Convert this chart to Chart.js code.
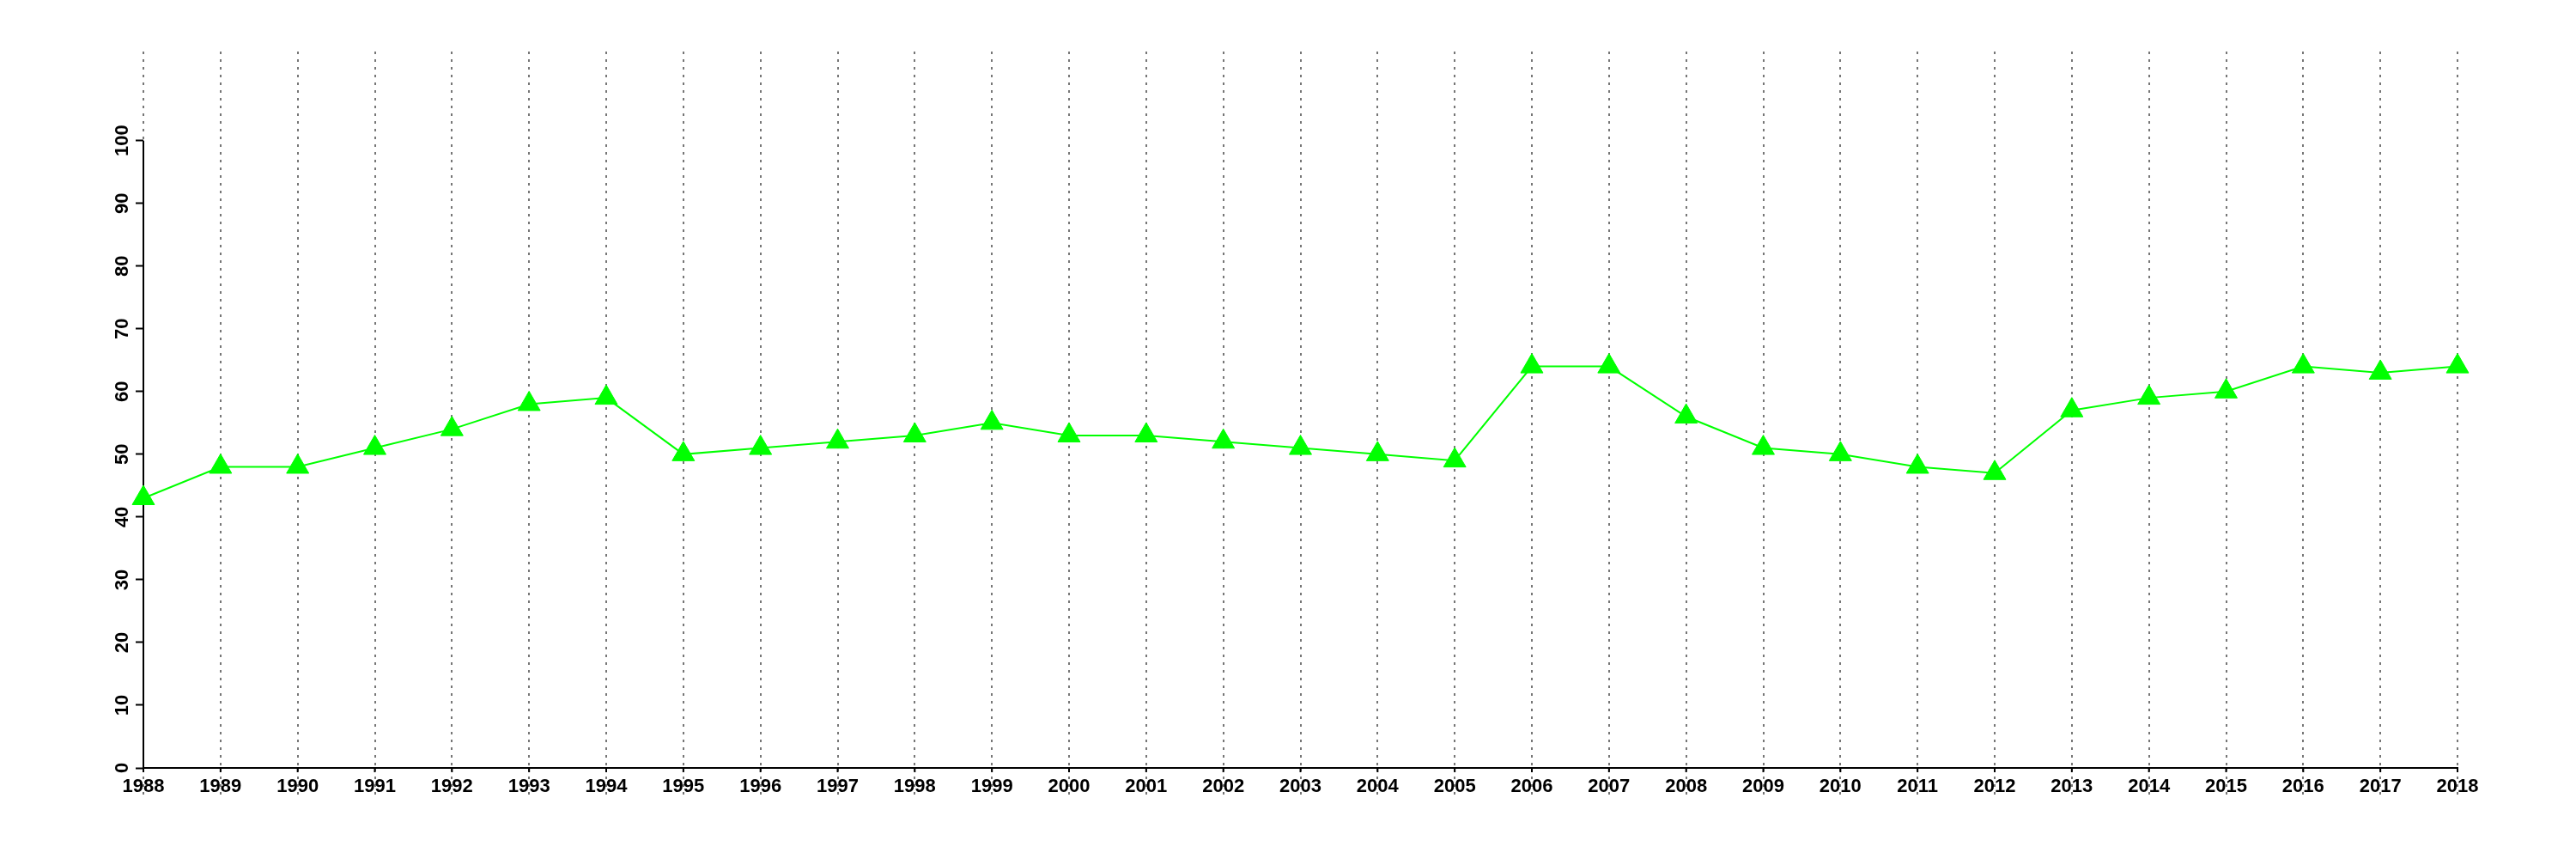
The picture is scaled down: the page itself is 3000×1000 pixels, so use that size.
<!DOCTYPE html>
<html>
<head>
<meta charset="utf-8">
<script src="https://cdn.jsdelivr.net/npm/chart.js@4.4.1/dist/chart.umd.min.js"></script>
<style>
  html, body { margin: 0; padding: 0; background: #fff; }
  #wrap { width: 3000px; height: 1000px; position: relative; }
</style>
</head>
<body>
<div id="wrap"><canvas id="chart"></canvas></div>
<script>
const years = ['1988', '1989', '1990', '1991', '1992', '1993', '1994', '1995', '1996', '1997',
               '1998', '1999', '2000', '2001', '2002', '2003', '2004', '2005', '2006', '2007',
               '2008', '2009', '2010', '2011', '2012', '2013', '2014', '2015', '2016', '2017', '2018'];
const values = [43, 48, 48, 51, 54, 58, 59, 50, 51, 52,
                53, 55, 53, 53, 52, 51, 50, 49, 64, 64,
                56, 51, 50, 48, 47, 57, 59, 60, 64, 63, 64];
const yTicks = [0, 10, 20, 30, 40, 50, 60, 70, 80, 90, 100];

const FONT = { family: '"Liberation Sans", Arial, sans-serif', size: 22, weight: 'bold' };
const GRID_GREY = '#767676';

// y axis line only covers the labelled 0-100 range; short black ticks under the x axis
const axisBits = {
  id: 'axisBits',
  beforeDatasetsDraw(chart) {
    const { ctx, scales: { x, y } } = chart;
    ctx.save();
    ctx.strokeStyle = '#000';
    ctx.lineWidth = 2;
    ctx.beginPath();
    ctx.moveTo(y.right, y.getPixelForValue(yTicks[0]) + 1);
    ctx.lineTo(y.right, y.getPixelForValue(yTicks[yTicks.length - 1]));
    ctx.stroke();
    x.ticks.forEach((t, i) => {
      const px = x.getPixelForTick(i);
      ctx.beginPath();
      ctx.moveTo(px, x.top);
      ctx.lineTo(px, x.top + 5);
      ctx.stroke();
    });
    ctx.restore();
  }
};

new Chart(document.getElementById('chart'), {
  type: 'line',
  data: {
    labels: years,
    datasets: [{
      data: values,
      borderColor: '#00ff00',
      borderWidth: 2,
      backgroundColor: '#00ff00',
      pointStyle: 'triangle',
      pointRadius: 15,
      pointBackgroundColor: '#00ff00',
      pointBorderColor: '#00ff00',
      pointBorderWidth: 1,
      tension: 0,
      clip: false
    }]
  },
  options: {
    responsive: true,
    maintainAspectRatio: false,
    animation: false,
    layout: { padding: { top: 60, right: 138, left: 0, bottom: 0 } },
    plugins: { legend: { display: false }, tooltip: { enabled: false } },
    scales: {
      x: {
        type: 'category',
        offset: false,
        afterFit: s => { s.height = 106; },
        grid: {
          offset: false,
          color: GRID_GREY,
          lineWidth: 2,
          drawTicks: true,
          tickLength: 33,
          tickColor: GRID_GREY,
          tickWidth: 2,
          tickBorderDash: [3, 6]
        },
        border: { display: true, color: '#000', width: 2, dash: [3, 6] },
        ticks: {
          color: '#000',
          font: FONT,
          padding: -24,
          autoSkip: false,
          maxRotation: 0,
          minRotation: 0
        }
      },
      y: {
        min: 0,
        max: 114.2,
        afterFit: s => { s.width = 167; },
        afterBuildTicks: s => { s.ticks = yTicks.map(v => ({ value: v })); },
        grid: {
          drawOnChartArea: false,
          drawTicks: true,
          tickLength: 9,
          tickColor: '#000',
          tickWidth: 2
        },
        border: { display: false },
        ticks: {
          color: '#000',
          font: FONT,
          minRotation: 90,
          maxRotation: 90,
          crossAlign: 'center',
          padding: -3
        }
      }
    }
  },
  plugins: [axisBits]
});
</script>
</body>
</html>
